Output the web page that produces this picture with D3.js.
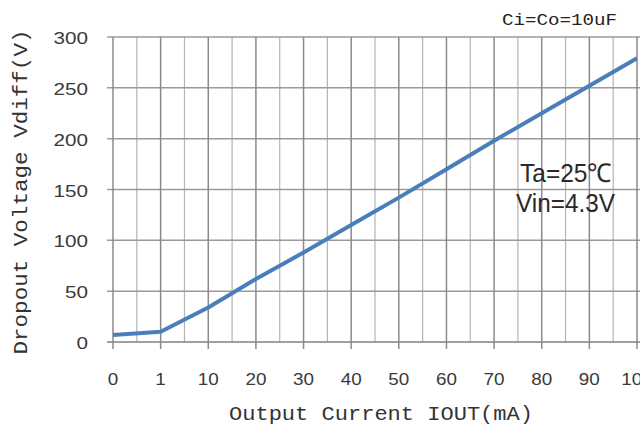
<!DOCTYPE html>
<html>
<head>
<meta charset="utf-8">
<script src="https://cdn.jsdelivr.net/npm/d3@7"></script>
<style>
  body { margin: 0; background: #fff; }
  svg { display: block; }
</style>
</head>
<body>
<script>
// values
const currentLabels = ["0", "1", "10", "20", "30", "40", "50", "60", "70", "80", "90", "100"];
const dropoutMv = [7, 10, 34, 62, 88, 115, 142, 170, 198, 225, 252, 279];
const yTicks = [0, 50, 100, 150, 200, 250, 300];

const svg = d3.select("body")
    .append("svg")
    .attr("width", 640)
    .attr("height", 430);

svg.append("rect").attr("width", 640).attr("height", 430).attr("fill", "#fff");

const x = d3.scalePoint()
    .domain(currentLabels)
    .range([113, 637]);

const y = d3.scaleLinear()
    .domain([0, 300])
    .range([342, 37]);

const step = x.step();

// minor vertical grid (between categories)
const minor = currentLabels.slice(0, -1).map(function (d) { return x(d) + step / 2; });
svg.append("g")
    .selectAll("line")
    .data(minor)
    .enter()
    .append("line")
    .attr("x1", function (d) { return d; })
    .attr("x2", function (d) { return d; })
    .attr("y1", y(300))
    .attr("y2", y(0))
    .style("stroke", "#b4b4b4")
    .style("stroke-width", 1.2);

// horizontal grid
svg.append("g")
    .selectAll("line")
    .data(yTicks)
    .enter()
    .append("line")
    .attr("x1", 107)
    .attr("x2", 645)
    .attr("y1", function (d) { return y(d); })
    .attr("y2", function (d) { return y(d); })
    .style("stroke", function (d) { return d === 0 ? "#808080" : "#9a9a9a"; })
    .style("stroke-width", 1.5);

// major vertical grid + ticks below axis
svg.append("g")
    .selectAll("line")
    .data(currentLabels)
    .enter()
    .append("line")
    .attr("x1", function (d) { return x(d); })
    .attr("x2", function (d) { return x(d); })
    .attr("y1", y(300))
    .attr("y2", y(0) + 7)
    .style("stroke", "#8a8a8a")
    .style("stroke-width", 1.5);

// x tick labels
svg.append("g")
    .selectAll("text")
    .data(currentLabels)
    .enter()
    .append("text")
    .attr("x", function (d) { return x(d); })
    .attr("y", 385)
    .attr("text-anchor", "middle")
    .attr("font-family", "Liberation Sans, Arial, sans-serif")
    .attr("font-size", "17px")
    .attr("fill", "#3a3a3a")
    .attr("textLength", function (d) { return d.length * 10.5; })
    .attr("lengthAdjust", "spacingAndGlyphs")
    .text(function (d) { return d; });

// y tick labels
svg.append("g")
    .selectAll("text")
    .data(yTicks)
    .enter()
    .append("text")
    .attr("x", 88)
    .attr("y", function (d) { return y(d) + 7; })
    .attr("text-anchor", "end")
    .attr("font-family", "Liberation Sans, Arial, sans-serif")
    .attr("font-size", "17px")
    .attr("fill", "#3a3a3a")
    .attr("textLength", function (d) { return String(d).length * 11.5; })
    .attr("lengthAdjust", "spacingAndGlyphs")
    .text(function (d) { return d; });

// the curve
const line = d3.line()
    .x(function (d, i) { return x(currentLabels[i]); })
    .y(function (d) { return y(d); });

svg.append("path")
    .datum(dropoutMv)
    .attr("d", line)
    .style("fill", "none")
    .style("stroke", "#4a7ebb")
    .style("stroke-width", 4)
    .style("stroke-linejoin", "round");

// axis titles
svg.append("text")
    .attr("x", 381)
    .attr("y", 420)
    .attr("text-anchor", "middle")
    .attr("font-family", "Liberation Mono, monospace")
    .attr("font-size", "21px")
    .attr("fill", "#333")
    .attr("textLength", 304)
    .attr("lengthAdjust", "spacingAndGlyphs")
    .text("Output Current IOUT(mA)");

svg.append("text")
    .attr("transform", "translate(27,192) rotate(-90)")
    .attr("text-anchor", "middle")
    .attr("font-family", "Liberation Mono, monospace")
    .attr("font-size", "21px")
    .attr("fill", "#333")
    .attr("textLength", 325)
    .attr("lengthAdjust", "spacingAndGlyphs")
    .text("Dropout Voltage Vdiff(V)");

// annotations
svg.append("text")
    .attr("x", 502)
    .attr("y", 25)
    .attr("font-family", "Liberation Mono, monospace")
    .attr("font-size", "17px")
    .attr("fill", "#222")
    .attr("textLength", 115)
    .attr("lengthAdjust", "spacingAndGlyphs")
    .text("Ci=Co=10uF");

svg.append("text")
    .attr("x", 520)
    .attr("y", 182)
    .attr("font-family", "Liberation Sans, Arial, sans-serif")
    .attr("font-size", "26px")
    .attr("fill", "#2a2a2a")
    .attr("textLength", 92)
    .attr("lengthAdjust", "spacingAndGlyphs")
    .text("Ta=25℃");

svg.append("text")
    .attr("x", 516)
    .attr("y", 212)
    .attr("font-family", "Liberation Sans, Arial, sans-serif")
    .attr("font-size", "26px")
    .attr("fill", "#2a2a2a")
    .attr("textLength", 99)
    .attr("lengthAdjust", "spacingAndGlyphs")
    .text("Vin=4.3V");
</script>
</body>
</html>
